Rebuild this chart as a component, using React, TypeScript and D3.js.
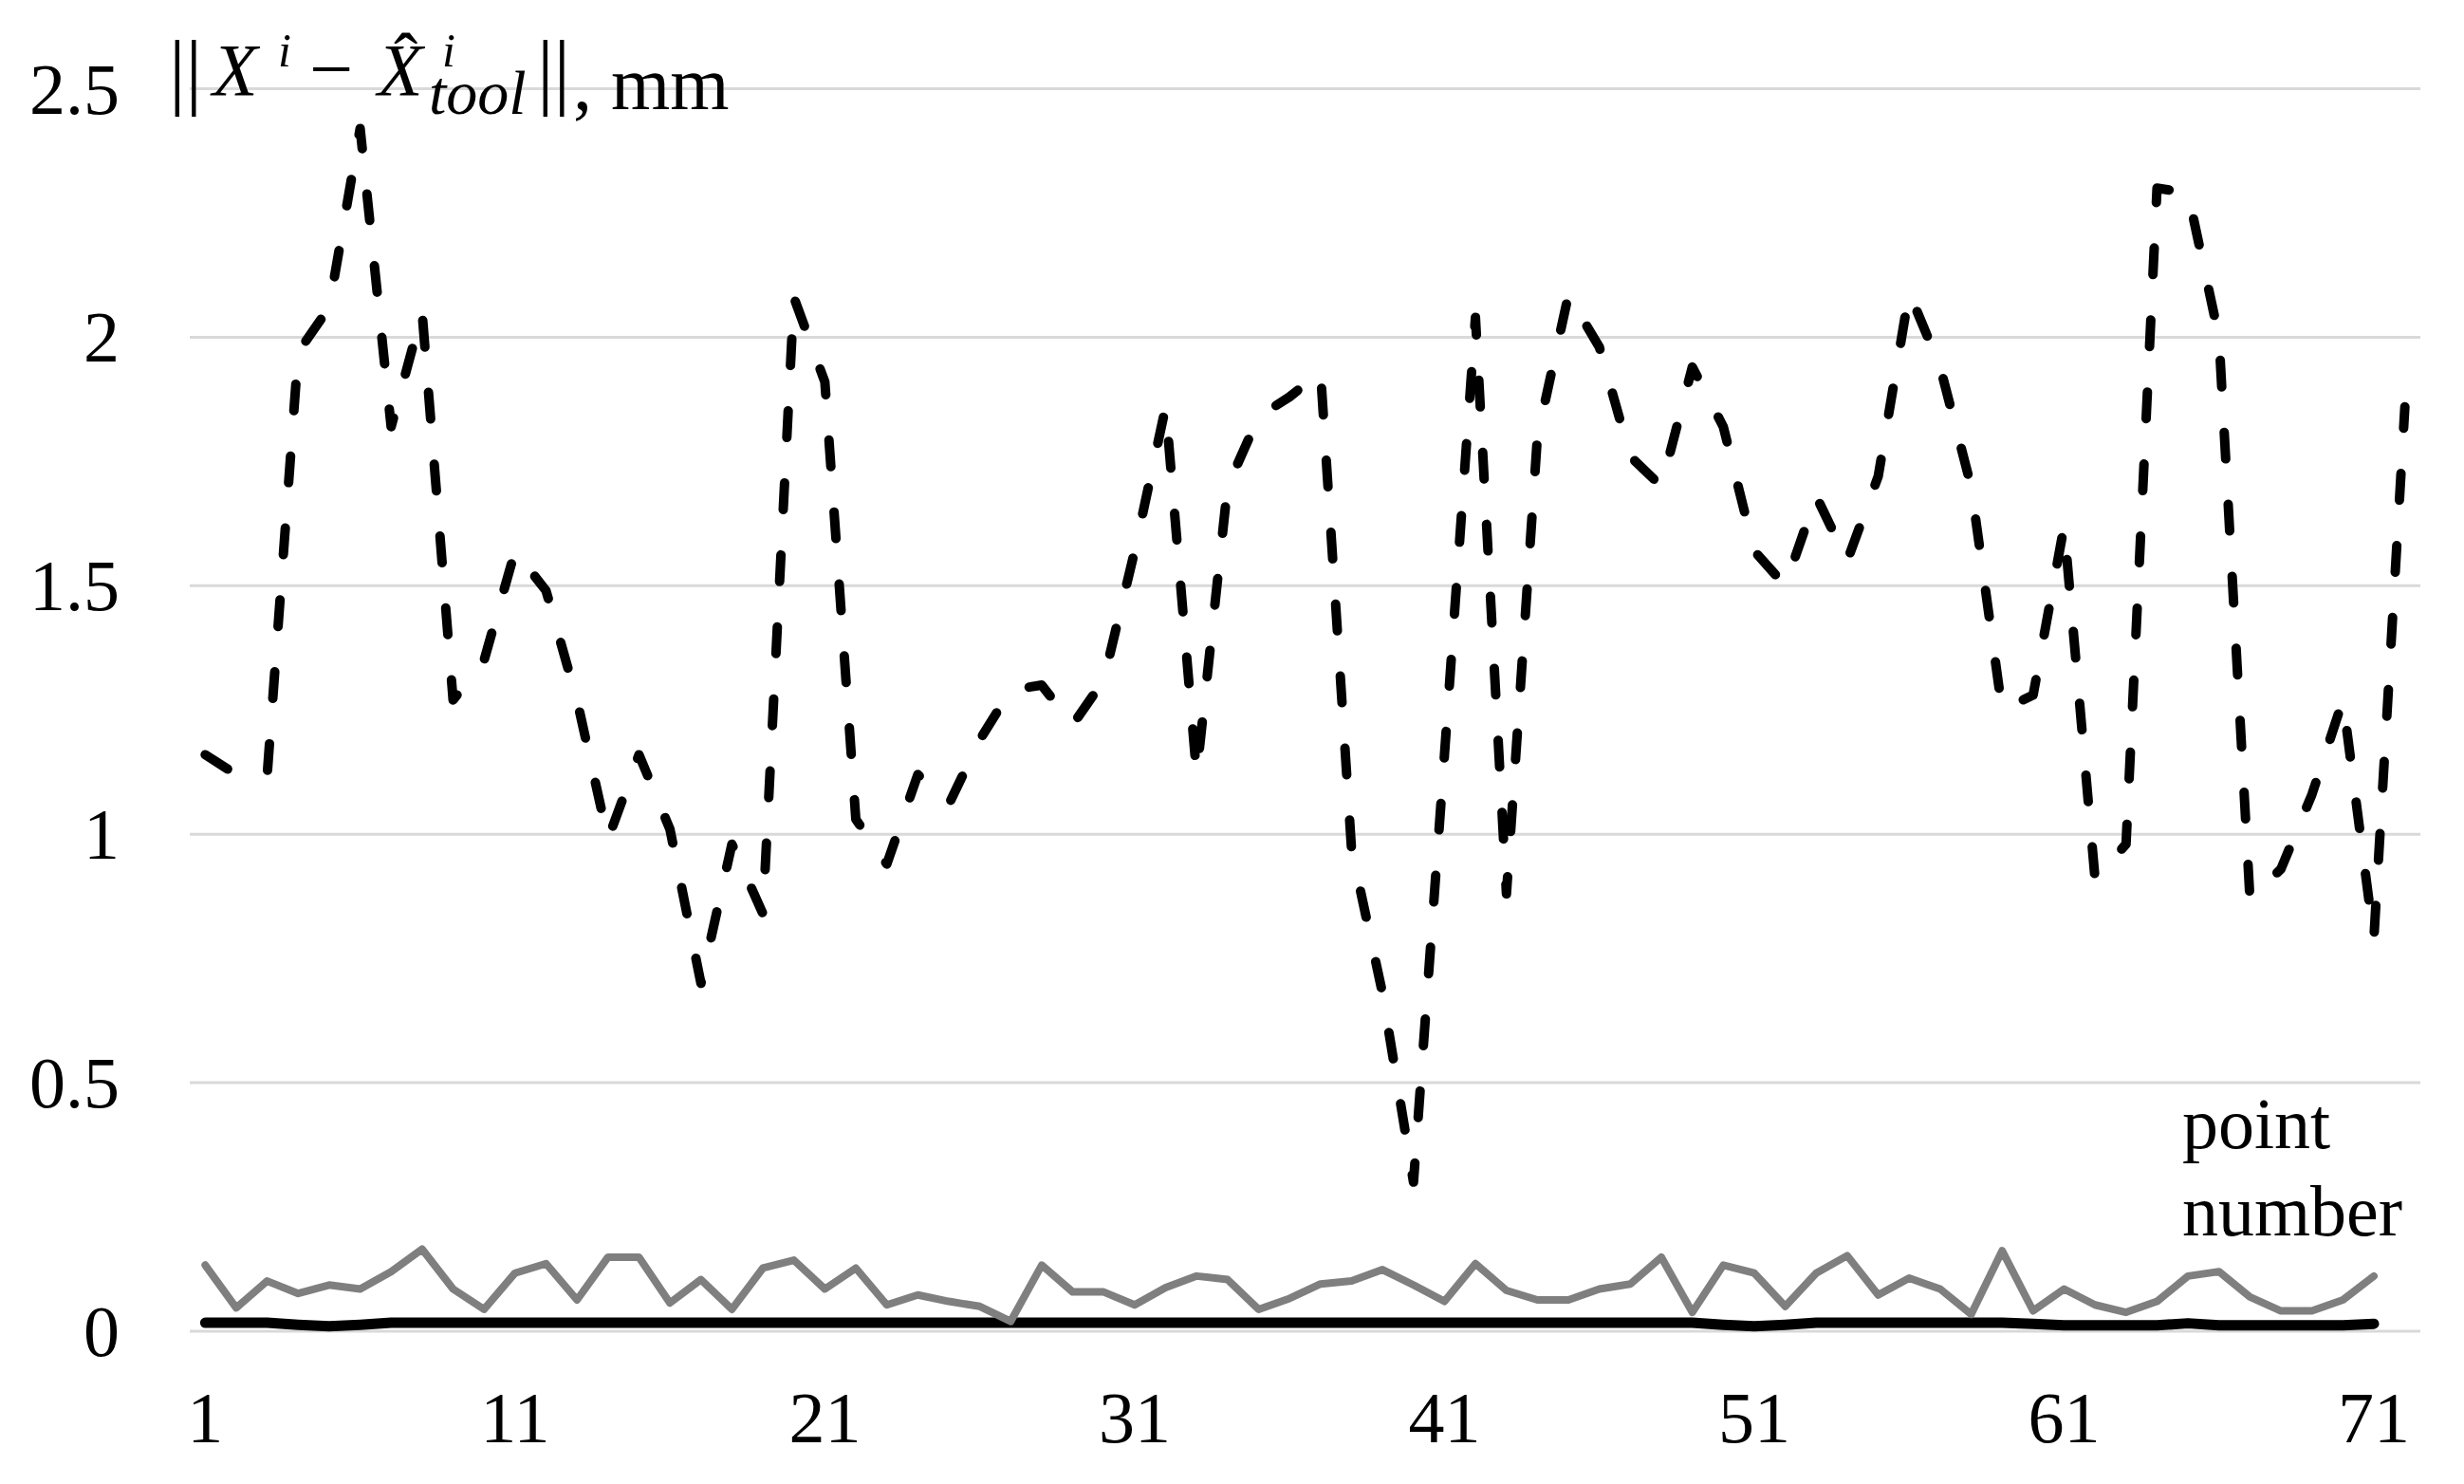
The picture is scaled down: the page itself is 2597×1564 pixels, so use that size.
import React, { useEffect } from 'react';
import * as d3 from 'd3';

// ---------- DATA ----------
const categories: number[] = d3.range(1, 73); // point numbers 1..72

const dashedSeries: number[] = [
  1.16, 1.12, 1.12, 1.97, 2.06, 2.42, 1.82, 2.05, 1.27, 1.35,
  1.57, 1.49, 1.27, 0.99, 1.16, 1.01, 0.70, 0.98, 0.84, 2.08,
  1.91, 1.03, 0.94, 1.12, 1.06, 1.19, 1.29, 1.30, 1.22, 1.31,
  1.57, 1.86, 1.12, 1.70, 1.84, 1.88, 1.93, 0.97, 0.68, 0.30,
  1.16, 2.04, 0.88, 1.80, 2.085, 1.98, 1.76, 1.70, 1.94, 1.82,
  1.57, 1.50, 1.68, 1.55, 1.72, 2.09, 1.94, 1.70, 1.25, 1.28,
  1.62, 0.91, 0.98, 2.30, 2.29, 2.00, 0.87, 0.93, 1.08, 1.27,
  0.79, 1.86,
];

const graySeries: number[] = [
  0.133, 0.047, 0.101, 0.076, 0.093, 0.085, 0.120, 0.165, 0.085, 0.044,
  0.117, 0.136, 0.063, 0.149, 0.149, 0.057, 0.104, 0.044, 0.127, 0.143,
  0.085, 0.127, 0.053, 0.073, 0.060, 0.050, 0.020, 0.133, 0.079, 0.079,
  0.053, 0.088, 0.111, 0.104, 0.044, 0.066, 0.095, 0.101, 0.124, 0.093,
  0.060, 0.136, 0.082, 0.063, 0.063, 0.085, 0.095, 0.149, 0.038, 0.133,
  0.117, 0.050, 0.117, 0.152, 0.073, 0.107, 0.085, 0.034, 0.162, 0.041,
  0.085, 0.053, 0.038, 0.060, 0.111, 0.120, 0.069, 0.041, 0.041, 0.063,
  0.111,
];

const blackSeries: number[] = [
  0.017, 0.017, 0.017, 0.013, 0.010, 0.013, 0.017, 0.017, 0.017, 0.017,
  0.017, 0.017, 0.017, 0.017, 0.017, 0.017, 0.017, 0.017, 0.017, 0.017,
  0.017, 0.017, 0.017, 0.017, 0.017, 0.017, 0.017, 0.017, 0.017, 0.017,
  0.017, 0.017, 0.017, 0.017, 0.017, 0.017, 0.017, 0.017, 0.017, 0.017,
  0.017, 0.017, 0.017, 0.017, 0.017, 0.017, 0.017, 0.017, 0.017, 0.013,
  0.010, 0.013, 0.017, 0.017, 0.017, 0.017, 0.017, 0.017, 0.017, 0.015,
  0.012, 0.012, 0.012, 0.012, 0.016, 0.012, 0.012, 0.012, 0.012, 0.012,
  0.015,
];

const yTicks: number[] = [0, 0.5, 1, 1.5, 2, 2.5];
const yTickLabels: string[] = ['0', '0.5', '1', '1.5', '2', '2.5'];
const xTickValues: number[] = [1, 11, 21, 31, 41, 51, 61, 71];
const xAxisTitle: string[] = ['point', 'number'];

// ---------- LAYOUT ----------
const W = 2597;
const H = 1564;
const plotLeft = 200;
const plotRight = 2551;
const plotTop = 93.5;
const plotBottom = 1403;
const FONT = '"Liberation Serif", "Times New Roman", serif';

export default function App() {
  useEffect(() => {
    document.body.style.margin = '0';
  }, []);

  const x = d3
    .scalePoint<number>()
    .domain(categories)
    .range([plotLeft, plotRight])
    .padding(0.5);
  const y = d3.scaleLinear().domain([0, 2.5]).range([plotBottom, plotTop]);

  const line = d3
    .line<number>()
    .x((_, i) => x(categories[i]) as number)
    .y((d) => y(d));

  return (
    <svg
      width={W}
      height={H}
      viewBox={`0 0 ${W} ${H}`}
      style={{ position: 'absolute', left: 0, top: 0, background: '#fff' }}
    >
      <rect x={0} y={0} width={W} height={H} fill="#fff" />

      {/* gridlines */}
      {yTicks.map((t) => (
        <line
          key={'g' + t}
          x1={plotLeft}
          x2={plotRight}
          y1={y(t)}
          y2={y(t)}
          stroke="#d9d9d9"
          strokeWidth={3}
        />
      ))}

      {/* y tick labels */}
      {yTicks.map((t, i) => (
        <text
          key={'yl' + t}
          x={126}
          y={y(t) + 26}
          textAnchor="end"
          fontFamily={FONT}
          fontSize={76}
          fill="#000"
        >
          {yTickLabels[i]}
        </text>
      ))}

      {/* x tick labels */}
      {xTickValues.map((v) => (
        <text
          key={'xl' + v}
          x={x(v) as number}
          y={1520}
          textAnchor="middle"
          fontFamily={FONT}
          fontSize={76}
          fill="#000"
        >
          {v}
        </text>
      ))}

      {/* series */}
      <path
        d={line(blackSeries) || ''}
        fill="none"
        stroke="#000"
        strokeWidth={11}
        strokeLinejoin="round"
        strokeLinecap="round"
      />
      <path
        d={line(graySeries) || ''}
        fill="none"
        stroke="#7f7f7f"
        strokeWidth={8}
        strokeLinejoin="round"
        strokeLinecap="round"
      />
      <path
        d={line(dashedSeries) || ''}
        fill="none"
        stroke="#000"
        strokeWidth={10}
        strokeDasharray="28 48"
        strokeLinejoin="round"
        strokeLinecap="round"
      />

      {/* y axis title: ||X^i − X̂^i_tool||, mm  (one text element) */}
      <text fontFamily={FONT} fill="#000" fontSize={78}>
        <tspan x={178} y={104} fontSize={88}>||</tspan>
        <tspan x={224} y={100} fontStyle="italic">X</tspan>
        <tspan x={293} y={70} fontSize={50} fontStyle="italic">i</tspan>
        <tspan x={326} y={100} fontSize={82}>−</tspan>
        <tspan x={398} y={100} fontStyle="italic">X</tspan>
        <tspan x={415} y={88} fontSize={76}>ˆ</tspan>
        <tspan x={466} y={70} fontSize={50} fontStyle="italic">i</tspan>
        <tspan x={452} y={120} fontSize={66} fontStyle="italic">tool</tspan>
        <tspan x={566} y={104} fontSize={88}>||</tspan>
        <tspan x={604} y={115} fontSize={80}>, mm</tspan>
      </text>

      {/* x axis title */}
      <text fontFamily={FONT} fill="#000" fontSize={76}>
        <tspan x={2300} y={1210}>{xAxisTitle[0]}</tspan>
        <tspan x={2300} y={1302}>{xAxisTitle[1]}</tspan>
      </text>
    </svg>
  );
}
